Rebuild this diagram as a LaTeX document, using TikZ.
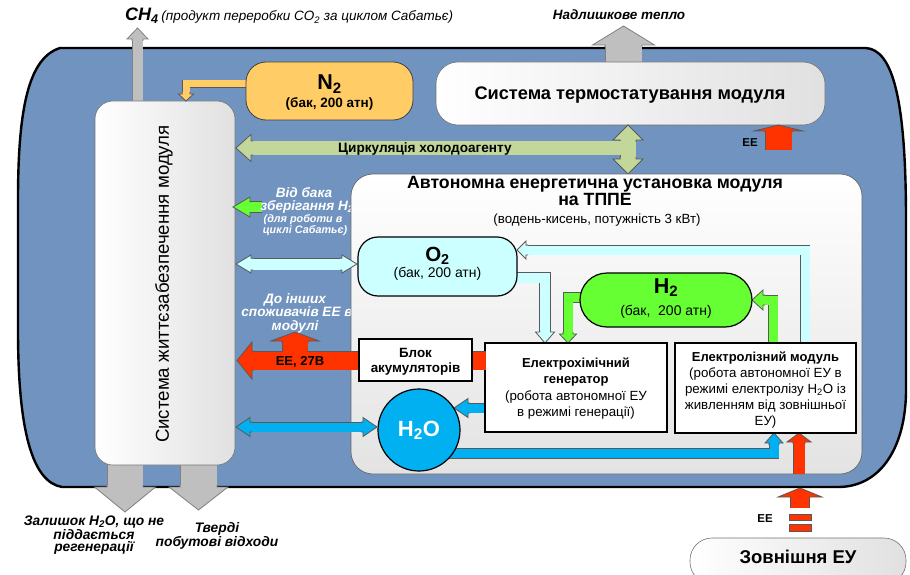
\documentclass[tikz,border=0pt]{standalone}
\usepackage{fontspec}
\setmainfont{Liberation Sans}
\definecolor{bgblue}{RGB}{113,147,191}
\definecolor{arrgray}{RGB}{191,191,191}
\definecolor{n2col}{RGB}{255,204,102}
\definecolor{o2col}{RGB}{204,255,255}
\definecolor{h2col}{RGB}{102,255,51}
\definecolor{h2ocol}{RGB}{0,176,240}
\definecolor{eered}{RGB}{255,51,0}
\definecolor{circcol}{RGB}{196,215,155}
\colorlet{edgecol}{black!60}
\newcommand\fsz[2]{\fontsize{#1}{#2}\selectfont}
\newcommand\shaft[3]{\draw[line width=0.8pt,draw=edgecol,double=#1,double distance=#2pt,line join=miter] #3;}
\newcommand\ahead[7]{\begin{scope}[shift={(#2,#3)},rotate=#4]
 \filldraw[fill=#1,draw=edgecol,line width=0.8pt,line join=miter] ({-#6-2},{#7/2+0.4}) -- ({-#6},{#7/2+0.4}) -- ({-#6},{#5}) -- (0,0) -- ({-#6},{-#5}) -- ({-#6},{-#7/2-0.4}) -- ({-#6-2},{-#7/2-0.4});
 \end{scope}}
\tikzset{
 softbox/.style={draw=black!55,line width=0.6pt,left color=white,right color=black!12},
 plainbox/.style={draw=black,line width=1.1pt,fill=white},
 tankbox/.style={draw=black,line width=1.2pt},
 whitelbl/.style={text=white,font=\fsz{13.6}{15}\bfseries\itshape,anchor=base,inner sep=0pt},
 smallwhite/.style={text=white,font=\fsz{10.8}{12}\bfseries\itshape,anchor=base,inner sep=0pt},
 boldlbl/.style={font=\fsz{13}{15}\bfseries,anchor=base,inner sep=0pt},
 reglbl/.style={font=\fsz{13.3}{15}},
 reglbl/.append style={anchor=base,inner sep=0pt},
 botlbl/.style={font=\fsz{13.8}{12.6}\bfseries\itshape,anchor=north,inner sep=0pt,align=center}
}
\begin{document}
\begin{tikzpicture}[x=1pt,y=-1pt]
\useasboundingbox (0,0) rectangle (910,575);
\fill[white] (0,0) rectangle (910,575);
% module hull
\draw[line width=2.4pt,fill=bgblue] (60,48) -- (866,48) .. controls (893,50) and (906,100) .. (906,220) -- (906,390) .. controls (906,445) and (882,487) .. (838,487) -- (62,487) .. controls (32,482) and (18,430) .. (18,330) -- (18,200) .. controls (18,110) and (28,58) .. (60,48) -- cycle;

% grey outflow arrows
\colorlet{edgecol}{black!50}
\shaft{arrgray}{10}{(137.5,105) -- (137.5,39)}
\ahead{arrgray}{137.5}{28}{90}{10.5}{11}{10}
\shaft{arrgray}{36}{(623.5,70) -- (623.5,45)}
\ahead{arrgray}{623.5}{26}{90}{31}{19}{36}
\shaft{arrgray}{35}{(125,455) -- (125,487)}
\ahead{arrgray}{125}{512}{270}{30.5}{25}{35}
\shaft{arrgray}{36}{(198.5,455) -- (198.5,487)}
\ahead{arrgray}{198.5}{510}{270}{29.5}{23}{36}
\colorlet{edgecol}{black!65}

% life support & thermostat
\node[softbox,rounded corners=18pt,minimum width=140pt,minimum height=364pt] (life) at (165,283) {};
\node[rotate=90,font=\fsz{18.7}{21}] (lifetxt) at (164,284) {Система життєзабезпечення модуля};
\node[softbox,rounded corners=22pt,minimum width=389pt,minimum height=63pt] (thermo) at (630.5,93.5) {};
\node[font=\fsz{18.2}{21}\bfseries,anchor=base,inner sep=0pt] (thermotxt) at (630,99.5) {Система термостатування модуля};

% N2 tank and pipe
\shaft{n2col}{7}{(252,84) -- (186,84) -- (186,94)}
\ahead{n2col}{186}{101}{270}{7.5}{7}{7}
\node[tankbox,draw=black!75,line width=0.8pt,rounded corners=20pt,fill=n2col,minimum width=167pt,minimum height=58pt] (n2) at (329.5,91) {};
\node[font=\fsz{21.5}{24}\bfseries,anchor=base,inner sep=0pt] (n2a) at (329.5,90) {N\textsubscript{2}};
\node[font=\fsz{13.5}{15}\bfseries,anchor=base,inner sep=0pt] (n2b) at (329.5,107.5) {(бак, 200 атн)};

% EE to thermostat
\shaft{eered}{26}{(778.5,150) -- (778.5,131)}
\ahead{eered}{778.5}{125}{90}{24.5}{6}{26}
\node[font=\fsz{11.5}{13}\bfseries,anchor=base,inner sep=0pt] (eethermo) at (750,146.5) {ЕЕ};

% coolant circulation
\shaft{circcol}{15}{(628,140) -- (628,159)}
\ahead{circcol}{628}{125}{90}{15}{15}{15}
\ahead{circcol}{628}{174}{270}{15}{15}{15}
\shaft{circcol}{13}{(621,148) -- (251,148)}
\ahead{circcol}{236}{148}{180}{13.5}{15}{13}
\fill[circcol] (619.4,141.6) rectangle (621.5,154.4);
\node[font=\fsz{13.6}{15}\bfseries,anchor=base,inner sep=0pt] (circtxt) at (425,153) {Циркуляція холодоагенту};

% labels on the hull (partly hidden by the power unit)
\shaft{h2col}{10}{(262,207) -- (250,207)}
\ahead{h2col}{233}{207}{180}{10}{17}{10}
\node[whitelbl] (frh2a) at (304,197) {Від бака};
\node[whitelbl] (frh2b) at (307,210) {зберігання H\textsubscript{2}};
\node[smallwhite] (frh2c) at (303,222) {(для роботи в};
\node[smallwhite] (frh2d) at (305,233) {циклі Сабатьє)};
\node[whitelbl] (othera) at (295,303) {До інших};
\node[whitelbl] (otherb) at (297,316.5) {споживачів ЕЕ в};
\node[whitelbl] (otherc) at (295,330) {модулі};

% autonomous power unit
\node[draw=black!60,line width=0.7pt,rounded corners=22pt,top color=white,bottom color=black!11,minimum width=511pt,minimum height=300pt] (apu) at (606.5,324) {};
\node[font=\fsz{17.7}{20}\bfseries,anchor=base,inner sep=0pt] (apua) at (595,188.5) {Автономна енергетична установка модуля};
\node[font=\fsz{17.7}{20}\bfseries,anchor=base,inner sep=0pt] (apub) at (595,205.5) {на ТППЕ};
\node[reglbl] (apuc) at (597,223.5) {(водень-кисень, потужність 3 кВт)};

% internal pipes
\shaft{o2col}{10}{(510,277.5) -- (545,277.5) -- (545,332)}
\ahead{o2col}{545}{343}{270}{9.5}{11}{10}
\shaft{o2col}{9}{(805,350) -- (805,250) -- (526,250)}
\ahead{o2col}{517}{250}{180}{9}{9}{9}
\shaft{h2col}{9}{(592,297.5) -- (568,297.5) -- (568,334)}
\ahead{h2col}{568}{343}{270}{8.5}{9}{9}
\shaft{h2col}{9}{(773,350) -- (773,300) -- (763,300)}
\ahead{h2col}{752}{300}{180}{10}{11}{9}
\shaft{h2ocol}{9}{(490,408) -- (468,408)}
\ahead{h2ocol}{454}{408}{180}{9.5}{14}{9}
\shaft{h2ocol}{9}{(440,453.5) -- (774,453.5) -- (774,443)}
\ahead{h2ocol}{774}{433}{90}{9}{10}{9}
\shaft{eered}{11}{(799,473.5) -- (799,442)}
\ahead{eered}{799}{433}{90}{12}{9}{11}

% tanks and modules
\node[tankbox,rounded corners=20pt,fill=o2col,minimum width=159pt,minimum height=59pt] (o2) at (437.5,266.5) {};
\node[font=\fsz{20.5}{23}\bfseries,anchor=base,inner sep=0pt] (o2a) at (437.5,261) {O\textsubscript{2}};
\node[reglbl,font=\fsz{14}{16}] (o2b) at (437.5,277.5) {(бак, 200 атн)};
\node[tankbox,rounded corners=27pt,fill=h2col,minimum width=172pt,minimum height=54pt] (h2) at (666,300) {};
\node[font=\fsz{21.5}{24}\bfseries,anchor=base,inner sep=0pt] (h2a) at (666,293) {H\textsubscript{2}};
\node[reglbl,font=\fsz{14}{16}] (h2b) at (666,315.5) {(бак,\ \ 200 атн)};
\node[plainbox,minimum width=182pt,minimum height=89pt] (gen) at (576,387.5) {};
\node[boldlbl] (gena) at (576,367) {Електрохімічний};
\node[boldlbl] (genb) at (576,383.5) {генератор};
\node[reglbl] (genc) at (576,400) {(робота автономної ЕУ};
\node[reglbl] (gend) at (576,416) {в режимі генерації)};
\node[plainbox,minimum width=181pt,minimum height=90pt] (elz) at (765.5,388) {};
\node[boldlbl] (elza) at (765.5,361) {Електролізний модуль};
\node[reglbl] (elzb) at (765.5,377) {(робота автономної ЕУ в};
\node[reglbl] (elzc) at (765.5,393) {режимі електролізу H\textsubscript{2}O із};
\node[reglbl] (elzd) at (765.5,409) {живленням від зовнішньої};
\node[reglbl] (elze) at (765.5,425) {ЕУ)};

% left-side exchanges
\shaft{o2col}{11}{(251,264) -- (342,264)}
\ahead{o2col}{236}{264}{180}{9}{15}{11}
\ahead{o2col}{357}{264}{0}{9}{15}{11}
\shaft{h2ocol}{9}{(250,427) -- (363,427)}
\ahead{h2ocol}{236}{427}{180}{9.5}{14}{9}
\ahead{h2ocol}{377}{427}{0}{9.5}{14}{9}
\node[circle,draw=black,line width=1.2pt,fill=h2ocol,minimum size=82pt,inner sep=0pt] (h2o) at (419,430) {};
\node[text=white,font=\fsz{22}{24}\bfseries,anchor=base,inner sep=0pt] (h2otxt) at (419,436) {H\textsubscript{2}O};

% electrical power bus
\shaft{eered}{18}{(485.6,360.5) -- (252,360.5)}
\ahead{eered}{237}{360.5}{180}{18.5}{15}{18}
\shaft{eered}{25}{(295,351.3) -- (295,341)}
\ahead{eered}{295}{332}{90}{24}{9}{25}
\fill[eered] (282.6,350) rectangle (307.4,352.6);
\node[boldlbl] (ee27) at (300,365.5) {ЕЕ, 27В};
\node[plainbox,minimum width=113pt,minimum height=42pt] (bat) at (415.5,360) {};
\node[boldlbl,font=\fsz{13.4}{15}\bfseries] (bata) at (415.5,357) {Блок};
\node[boldlbl,font=\fsz{13.4}{15}\bfseries] (batb) at (415.5,372) {акумуляторів};

% external power unit
\shaft{eered}{18}{(800,508) -- (800,497)}
\ahead{eered}{800}{488}{90}{22}{9}{18}
\filldraw[fill=eered,draw=edgecol,line width=0.8pt] (789,514) rectangle (811,520);
\filldraw[fill=eered,draw=edgecol,line width=0.8pt] (789,524) rectangle (811,531);
\node[font=\fsz{11.5}{13}\bfseries,anchor=base,inner sep=0pt] (eeext) at (765,522) {ЕЕ};
\node[softbox,rounded corners=22pt,minimum width=216pt,minimum height=46pt] (ext) at (798,561) {};
\node[font=\fsz{18.5}{21}\bfseries,anchor=base,inner sep=0pt] (exttxt) at (798,563.5) {Зовнішня ЕУ};

% texts outside the hull
\node[anchor=base west,inner sep=0pt] (ch4) at (125,21) {{\fsz{18}{20}\bfseries\itshape CH\textsubscript{4}} {\fsz{13.5}{15}\itshape (продукт переробки CO\textsubscript{2} за циклом Сабатьє)}};
\node[font=\fsz{13.5}{15}\bfseries\itshape,anchor=base,inner sep=0pt] (heat) at (619,19.5) {Надлишкове тепло};
\node[botlbl] (resid) at (94,515.5) {Залишок H\textsubscript{2}O, що не\\піддається\\регенерації};
\node[botlbl] (waste) at (217,522) {Тверді\\побутові відходи};
\end{tikzpicture}
\end{document}
